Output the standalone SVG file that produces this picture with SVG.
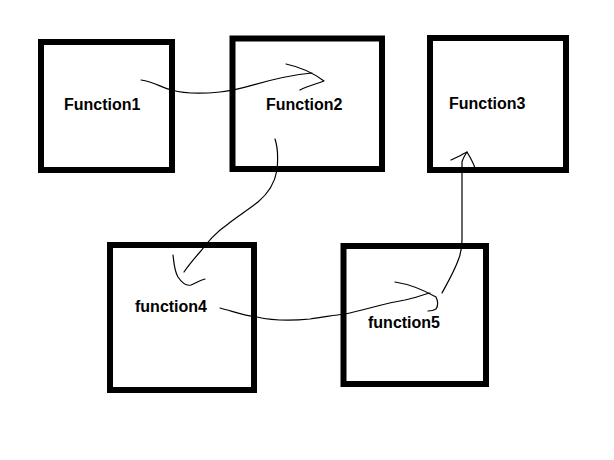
<svg xmlns="http://www.w3.org/2000/svg" width="614" height="460" viewBox="0 0 614 460">
<style>
.box{fill:none;stroke:#000;stroke-width:6}
.lbl{font-family:"Liberation Sans",Arial,sans-serif;font-weight:bold;font-size:16px;fill:#000}
.c{fill:none;stroke:#000;stroke-width:1.2;stroke-linecap:round;stroke-linejoin:round}
</style>
<rect width="614" height="460" fill="#fff"/>
<g id="connectors">
<path class="c" d="M141,80 C155,82 162,88 172,90 C182,93 200,94 220,92 C246,90 268,77 312,73"/>
<path class="c" d="M286,64 C300,67 312,72 324,81 C316,84 308,86 300,90"/>
<path class="c" d="M275,139 C278,148 278,160 277,170 C275,182 270,192 258,202 C248,210 238,216 228,224 C215,233 208,242 200,252 C193,260 188,266 184,272"/>
<path class="c" d="M173,255 C174,262 174,270 178,277 C182,283 187,286 191,285 C196,283 200,280 205,279"/>
<path class="c" d="M220,308 C235,312 245,316 257,317 C270,320 290,321 310,319 C325,317 335,315 345,314 C365,310 385,303 405,300 C415,298 422,295 430,293"/>
<path class="c" d="M395,282 C408,284 420,288 436,297 C438,301 438,306 436,309 C433,311 430,311 428,311"/>
<path class="c" d="M442,293 C448,282 455,270 459,258 C462,250 462,246 462,240 L462,162 C463,158 465,155 467,152"/>
<path class="c" d="M451,160 C455,158 460,156 463,154 L467,152 C470,157 473,162 475,168"/>
</g>
<g id="function1"><rect class="box" x="41" y="42" width="131" height="128"/><text class="lbl" x="64" y="110">Function1</text></g>
<g id="function2"><rect class="box" x="232.5" y="38.5" width="149.5" height="130.5"/><text class="lbl" x="266" y="110">Function2</text></g>
<g id="function3"><rect class="box" x="430" y="38" width="136" height="132"/><text class="lbl" x="449" y="109">Function3</text></g>
<g id="function4"><rect class="box" x="110" y="245" width="144" height="145"/><text class="lbl" x="135" y="312">function4</text></g>
<g id="function5"><rect class="box" x="343.5" y="246" width="142.5" height="138"/><text class="lbl" x="368" y="328">function5</text></g>
</svg>
